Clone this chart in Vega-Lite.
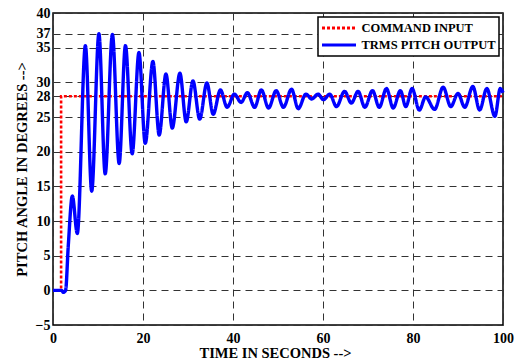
{
  "$schema": "https://vega.github.io/schema/vega-lite/v6.json",
  "width": 450,
  "height": 312,
  "autosize": {"type": "none"},
  "padding": {"left": 53, "top": 13, "right": 19, "bottom": 37},
  "background": "white",
  "config": {
    "font": "Liberation Serif",
    "view": {"stroke": "black", "strokeWidth": 1.5},
    "axis": {
      "domain": false,
      "ticks": false,
      "grid": true,
      "gridColor": "#333333",
      "gridDash": [7, 5],
      "gridWidth": 1,
      "labelFont": "Liberation Serif",
      "labelFontSize": 14,
      "labelFontWeight": "bold",
      "labelColor": "black",
      "labelOverlap": false,
      "labelFlush": false,
      "titleFont": "Liberation Serif",
      "titleFontSize": 14.5,
      "titleFontWeight": "bold",
      "titleColor": "black"
    },
    "legend": {
      "orient": "top-right",
      "offset": 4,
      "padding": 2.5,
      "strokeColor": "black",
      "strokeWidth": 1.5,
      "fillColor": "white",
      "symbolType": "stroke",
      "symbolSize": 1156,
      "symbolStrokeWidth": 3,
      "labelFont": "Liberation Serif",
      "labelFontSize": 12.5,
      "labelFontWeight": "bold",
      "labelColor": "black",
      "labelOffset": 4,
      "clipHeight": 17,
      "rowPadding": 0
    }
  },
  "datasets": {
    "command": [
      {"t": 0, "angle": 0, "series": "COMMAND INPUT"},
      {"t": 1.8, "angle": 0, "series": "COMMAND INPUT"},
      {"t": 1.8, "angle": 28, "series": "COMMAND INPUT"},
      {"t": 100, "angle": 28, "series": "COMMAND INPUT"}
    ],
    "output": [
      {"t": 0, "angle": 0, "series": "TRMS PITCH OUTPUT"},
      {"t": 1.9, "angle": 0, "series": "TRMS PITCH OUTPUT"},
      {"t": 2.3, "angle": -0.3, "series": "TRMS PITCH OUTPUT"},
      {"t": 2.8, "angle": 0, "series": "TRMS PITCH OUTPUT"},
      {"t": 3.4, "angle": 6.5, "series": "TRMS PITCH OUTPUT"},
      {"t": 4.3, "angle": 13.6, "series": "TRMS PITCH OUTPUT"},
      {"t": 5.4, "angle": 8.2, "series": "TRMS PITCH OUTPUT"},
      {"t": 7.2, "angle": 35.3, "series": "TRMS PITCH OUTPUT"},
      {"t": 8.6, "angle": 14.3, "series": "TRMS PITCH OUTPUT"},
      {"t": 10.2, "angle": 37.0, "series": "TRMS PITCH OUTPUT"},
      {"t": 11.6, "angle": 16.8, "series": "TRMS PITCH OUTPUT"},
      {"t": 13.2, "angle": 36.9, "series": "TRMS PITCH OUTPUT"},
      {"t": 14.7, "angle": 18.3, "series": "TRMS PITCH OUTPUT"},
      {"t": 16.1, "angle": 35.3, "series": "TRMS PITCH OUTPUT"},
      {"t": 17.6, "angle": 19.7, "series": "TRMS PITCH OUTPUT"},
      {"t": 19.1, "angle": 34.3, "series": "TRMS PITCH OUTPUT"},
      {"t": 20.5, "angle": 21.2, "series": "TRMS PITCH OUTPUT"},
      {"t": 22.2, "angle": 33.0, "series": "TRMS PITCH OUTPUT"},
      {"t": 23.6, "angle": 22.4, "series": "TRMS PITCH OUTPUT"},
      {"t": 25.1, "angle": 31.2, "series": "TRMS PITCH OUTPUT"},
      {"t": 26.5, "angle": 23.4, "series": "TRMS PITCH OUTPUT"},
      {"t": 28.2, "angle": 31.3, "series": "TRMS PITCH OUTPUT"},
      {"t": 29.6, "angle": 24.3, "series": "TRMS PITCH OUTPUT"},
      {"t": 31.1, "angle": 30.2, "series": "TRMS PITCH OUTPUT"},
      {"t": 32.6, "angle": 24.7, "series": "TRMS PITCH OUTPUT"},
      {"t": 34.2, "angle": 29.9, "series": "TRMS PITCH OUTPUT"},
      {"t": 35.6, "angle": 25.4, "series": "TRMS PITCH OUTPUT"},
      {"t": 37.2, "angle": 28.9, "series": "TRMS PITCH OUTPUT"},
      {"t": 38.7, "angle": 26.4, "series": "TRMS PITCH OUTPUT"},
      {"t": 40.3, "angle": 28.3, "series": "TRMS PITCH OUTPUT"},
      {"t": 41.8, "angle": 27.1, "series": "TRMS PITCH OUTPUT"},
      {"t": 43.2, "angle": 28.5, "series": "TRMS PITCH OUTPUT"},
      {"t": 44.8, "angle": 26.4, "series": "TRMS PITCH OUTPUT"},
      {"t": 46.3, "angle": 28.9, "series": "TRMS PITCH OUTPUT"},
      {"t": 47.9, "angle": 26.3, "series": "TRMS PITCH OUTPUT"},
      {"t": 49.6, "angle": 28.8, "series": "TRMS PITCH OUTPUT"},
      {"t": 51.2, "angle": 26.4, "series": "TRMS PITCH OUTPUT"},
      {"t": 53.0, "angle": 29.0, "series": "TRMS PITCH OUTPUT"},
      {"t": 54.5, "angle": 26.2, "series": "TRMS PITCH OUTPUT"},
      {"t": 56.2, "angle": 28.3, "series": "TRMS PITCH OUTPUT"},
      {"t": 57.5, "angle": 27.6, "series": "TRMS PITCH OUTPUT"},
      {"t": 58.9, "angle": 28.3, "series": "TRMS PITCH OUTPUT"},
      {"t": 60.1, "angle": 27.5, "series": "TRMS PITCH OUTPUT"},
      {"t": 61.5, "angle": 28.3, "series": "TRMS PITCH OUTPUT"},
      {"t": 63.0, "angle": 26.5, "series": "TRMS PITCH OUTPUT"},
      {"t": 64.8, "angle": 28.7, "series": "TRMS PITCH OUTPUT"},
      {"t": 66.3, "angle": 27.0, "series": "TRMS PITCH OUTPUT"},
      {"t": 67.8, "angle": 28.7, "series": "TRMS PITCH OUTPUT"},
      {"t": 69.3, "angle": 26.4, "series": "TRMS PITCH OUTPUT"},
      {"t": 71.0, "angle": 28.8, "series": "TRMS PITCH OUTPUT"},
      {"t": 72.5, "angle": 26.4, "series": "TRMS PITCH OUTPUT"},
      {"t": 74.1, "angle": 29.1, "series": "TRMS PITCH OUTPUT"},
      {"t": 75.6, "angle": 26.3, "series": "TRMS PITCH OUTPUT"},
      {"t": 77.2, "angle": 28.8, "series": "TRMS PITCH OUTPUT"},
      {"t": 78.4, "angle": 26.5, "series": "TRMS PITCH OUTPUT"},
      {"t": 79.8, "angle": 29.1, "series": "TRMS PITCH OUTPUT"},
      {"t": 81.4, "angle": 26.0, "series": "TRMS PITCH OUTPUT"},
      {"t": 82.8, "angle": 27.9, "series": "TRMS PITCH OUTPUT"},
      {"t": 84.8, "angle": 26.1, "series": "TRMS PITCH OUTPUT"},
      {"t": 86.7, "angle": 29.3, "series": "TRMS PITCH OUTPUT"},
      {"t": 88.4, "angle": 26.5, "series": "TRMS PITCH OUTPUT"},
      {"t": 90.0, "angle": 28.4, "series": "TRMS PITCH OUTPUT"},
      {"t": 91.5, "angle": 26.4, "series": "TRMS PITCH OUTPUT"},
      {"t": 93.3, "angle": 29.4, "series": "TRMS PITCH OUTPUT"},
      {"t": 94.8, "angle": 26.0, "series": "TRMS PITCH OUTPUT"},
      {"t": 96.4, "angle": 29.1, "series": "TRMS PITCH OUTPUT"},
      {"t": 98.2, "angle": 25.1, "series": "TRMS PITCH OUTPUT"},
      {"t": 99.4, "angle": 29.1, "series": "TRMS PITCH OUTPUT"},
      {"t": 100, "angle": 28.5, "series": "TRMS PITCH OUTPUT"}
    ]
  },
  "encoding": {
    "x": {
      "field": "t",
      "type": "quantitative",
      "scale": {"domain": [0, 100], "nice": false, "zero": false},
      "axis": {
        "values": [0, 20, 40, 60, 80, 100],
        "labelPadding": 6,
        "title": "TIME IN SECONDS -->",
        "titleY": 21,
        "titleX": 222
      }
    },
    "y": {
      "field": "angle",
      "type": "quantitative",
      "scale": {"domain": [-5, 40], "nice": false, "zero": false},
      "axis": {
        "values": [-5, 0, 5, 10, 15, 20, 25, 28, 30, 35, 37, 40],
        "labelPadding": 3,
        "title": "PITCH ANGLE IN DEGREES -->",
        "titleX": -31,
        "titleY": 156,
        "titleBaseline": "middle"
      }
    },
    "color": {
      "field": "series",
      "type": "nominal",
      "scale": {"domain": ["COMMAND INPUT", "TRMS PITCH OUTPUT"], "range": ["#ff0000", "#0000ff"]},
      "legend": {"title": null}
    },
    "strokeDash": {
      "field": "series",
      "type": "nominal",
      "scale": {"domain": ["COMMAND INPUT", "TRMS PITCH OUTPUT"], "range": [[3, 2], [1, 0]]},
      "legend": {"title": null}
    }
  },
  "layer": [
    {
      "data": {"name": "command"},
      "mark": {"type": "line", "strokeWidth": 2.6, "strokeCap": "butt"}
    },
    {
      "data": {"name": "output"},
      "mark": {"type": "line", "strokeWidth": 3.4, "interpolate": "monotone"}
    }
  ]
}
